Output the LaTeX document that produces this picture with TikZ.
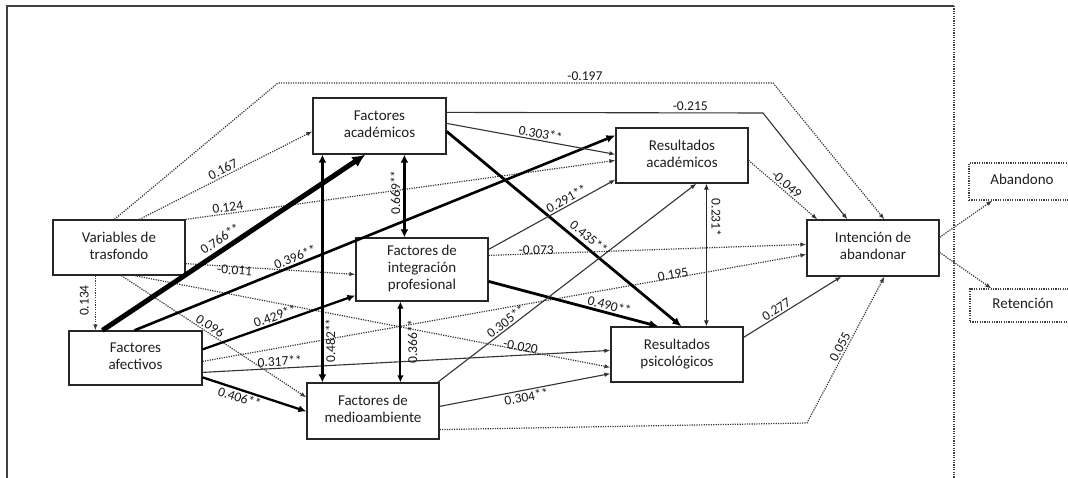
\documentclass[tikz,border=0pt]{standalone}
\usepackage{fontspec}
\setmainfont{Carlito}
\usetikzlibrary{arrows.meta,calc}
\newcommand\boxtxt[2][4.5pt]{\raisebox{#1}{\begin{tabular}{@{}c@{}}#2\end{tabular}}}
\begin{document}
\begin{tikzpicture}[x=1pt,y=-1pt,
  box/.style={draw=black!85,line width=1.2pt,inner sep=0pt,font=\fontsize{15}{17}\selectfont,text=black!88},
  dbox/.style={box,draw=black!75,line width=1.1pt,dash pattern=on 1.2pt off 1.2pt},
  lab/.style={font=\fontsize{13.5}{15}\selectfont,text=black!90,inner sep=1.5pt},
  tipa/.style={-{Latex[length=6pt,width=4.5pt]}},
  dotl/.style={draw=black!78,line width=1.2pt,dash pattern=on 1.2pt off 1.2pt,tipa},
  thinl/.style={draw=black!80,line width=1.1pt,tipa},
  medl/.style={draw=black,line width=2.3pt,-{Latex[length=8pt,width=7pt]}},
  thkl/.style={draw=black,line width=2.8pt,-{Latex[length=9pt,width=8pt]}},
  vthkl/.style={draw=black,line width=5pt,-{Latex[length=13pt,width=12pt]}},
  dblk/.style={draw=black,line width=3.2pt,{Latex[length=8pt,width=8pt]}-{Latex[length=8pt,width=8pt]}},
  dblm/.style={draw=black,line width=2pt,{Latex[length=7pt,width=6.5pt]}-{Latex[length=7pt,width=6.5pt]}},
  dbls/.style={draw=black!85,line width=1.2pt,{Latex[length=6pt,width=5pt]}-{Latex[length=6pt,width=5pt]}}
]
\useasboundingbox (0,0) rectangle (1068,478);
\fill[white] (0,0) rectangle (1068,478);

% frame
\draw[black!75,line width=1.3pt] (7,478) -- (7,6) -- (954,6);
\draw[black!75,line width=1.1pt,dash pattern=on 1.2pt off 1.2pt] (954,6) -- (954,478);

% boxes
\node[box,minimum width=132,minimum height=55] (V) at (119,247.5) {\boxtxt{Variables de\\trasfondo}};
\node[box,minimum width=133,minimum height=54] (FA) at (135.5,358) {\boxtxt{Factores\\afectivos}};
\node[box,minimum width=133,minimum height=56] (AC) at (379.5,126) {\boxtxt{Factores\\académicos}};
\node[box,minimum width=132,minimum height=63] (IP) at (422,269.5) {\boxtxt[0pt]{Factores de\\integración\\profesional}};
\node[box,minimum width=132,minimum height=56] (MA) at (373,411) {\boxtxt{Factores de\\medioambiente}};
\node[box,minimum width=132,minimum height=55] (RA) at (682,155.5) {\boxtxt{Resultados\\académicos}};
\node[box,minimum width=132,minimum height=55] (RP) at (677,354.5) {\boxtxt{Resultados\\psicológicos}};
\node[box,minimum width=132,minimum height=56] (IA) at (873,248) {\boxtxt{Intención de\\abandonar}};
\node[dbox,minimum width=106,minimum height=37] (Ab) at (1022,181.5) {\boxtxt{Abandono}};
\node[dbox,minimum width=106,minimum height=33] (Ret) at (1023,305.5) {\boxtxt[3.5pt]{Retención}};

% bend points
\coordinate (b1) at (278,83);
\coordinate (b2) at (773,83);
\coordinate (b3) at (763,113);
\coordinate (b4) at (807,423);

% from Variables de trasfondo
\draw[dotl] ($(V.north west)+(87,0)$) -- node[lab,pos=.5,sloped,above]{0.167} ($(AC.north west)+(0,34)$);
\draw[dotl] ($(V.north west)+(62,0)$) -- (b1) -- node[lab,above,pos=.62]{-0.197} (b2) -- ($(IA.north west)+(78,0)$);
\draw[dotl] (V.north east) -- node[lab,pos=.1,sloped,above]{0.124} ($(RA.north west)+(0,33)$);
\draw[dotl] ($(V.south west)+(43,0)$) -- ($(FA.north west)+(27,0)$);
\node[lab,rotate=90] at ($(V.south west)+(32,25)$) {0.134};
\draw[dotl] ($(V.south east)+(0,-12)$) -- node[lab,pos=.29,sloped,below=-3pt]{-0.011} ($(IP.north west)+(0,37)$);
\draw[dotl] ($(V.south west)+(69,0)$) -- node[lab,pos=.46,sloped,above]{0.096} ($(MA.north west)+(0,15)$);
\draw[dotl] ($(V.south west)+(82,0)$) -- node[lab,pos=.81,sloped,above=-3pt]{-0.020} ($(RP.north west)+(0,41)$);

% from Factores afectivos
\draw[vthkl] ($(FA.north west)+(34,0)$) -- node[lab,pos=.47,sloped,above=2pt]{0.766**} ($(AC.south west)+(53,0)$);
\draw[thkl,line width=2.6pt] ($(FA.north west)+(66,0)$) -- node[lab,pos=.34,sloped,above]{0.396**} ($(RA.north west)+(0,8)$);
\draw[medl] ($(FA.north east)+(0,19)$) -- node[lab,pos=.49,sloped,above]{0.429**} ($(IP.north west)+(0,58)$);
\draw[medl] ($(FA.north east)+(0,47)$) -- node[lab,pos=.38,sloped,below]{0.406**} ($(MA.north west)+(0,29)$);
\draw[thinl] ($(FA.north east)+(0,42)$) -- node[lab,pos=.19,sloped,above]{0.317**} ($(RP.north west)+(0,24)$);
\draw[dotl] ($(FA.north east)+(0,31)$) -- node[lab,pos=.78,sloped,above=-3pt]{0.195} ($(IA.north west)+(0,35)$);

% from Factores academicos
\draw[thinl] ($(AC.north east)+(0,26)$) -- node[lab,pos=.55,sloped,above]{0.303**} ($(RA.north west)+(0,27)$);
\draw[thinl] ($(AC.north east)+(0,15)$) -- node[lab,above,pos=.77]{-0.215} (b3) -- ($(IA.north west)+(41,0)$);
\draw[thkl] ($(AC.north east)+(0,34)$) -- node[lab,pos=.58,sloped,above=2pt]{0.435**} ($(RP.north west)+(71,0)$);
\draw[dblk] ($(AC.south west)+(10,0)$) -- ($(MA.north west)+(16,0)$);
\node[lab,rotate=90] at ($(AC.south west)+(18,186)$) {0.482**};
\draw[dblk,line width=2.8pt] ($(AC.south west)+(92,0)$) -- ($(IP.north west)+(49,0)$);
\node[lab,rotate=90] at ($(AC.south west)+(83,38)$) {0.669**};

% from Factores de integracion profesional
\draw[thinl] ($(IP.north east)+(0,12)$) -- node[lab,pos=.64,sloped,above]{0.291**} ($(RA.south west)+(0,-4)$);
\draw[dotl] ($(IP.north east)+(0,18)$) -- node[lab,pos=.15,above=-3pt]{-0.073} ($(IA.north west)+(0,25)$);
\draw[thkl] ($(IP.north east)+(0,44)$) -- node[lab,pos=.70,sloped,above]{0.490**} ($(RP.north west)+(48,0)$);
\draw[dblm] ($(IP.south west)+(45,0)$) -- ($(MA.north west)+(94,0)$);
\node[lab,rotate=90] at ($(IP.south west)+(57,40)$) {0.366**};

% from Factores de medioambiente
\draw[thinl] ($(MA.north east)+(-2,0)$) -- node[lab,pos=.28,sloped,above]{0.305**} ($(RA.south west)+(81,0)$);
\draw[thinl] ($(MA.north east)+(0,24)$) -- node[lab,pos=.5,sloped,below]{0.304**} ($(RP.south west)+(0,-9)$);
\draw[dotl] ($(MA.south east)+(0,-10)$) -- (b4) -- node[lab,pos=.5,sloped,above]{0.055} ($(IA.south west)+(78,0)$);

% resultados
\draw[dbls] ($(RA.south west)+(91,0)$) -- ($(RP.north west)+(96,0)$);
\node[lab,rotate=-90] at ($(RA.south west)+(101,34)$) {0.231*};
\draw[thinl] ($(RP.north east)+(0,11)$) -- node[lab,pos=.37,sloped,above]{0.277} ($(IA.south west)+(35,0)$);
\draw[dotl] ($(RA.north east)+(0,33)$) -- node[lab,pos=.49,sloped,above]{-0.049} ($(IA.north west)+(11,0)$);

% outcomes
\draw[dotl] ($(IA.north east)+(0,18)$) -- ($(Ab.south west)+(24,0)$);
\draw[dotl] ($(IA.north east)+(0,33)$) -- ($(Ret.north west)+(22,0)$);
\end{tikzpicture}
\end{document}
